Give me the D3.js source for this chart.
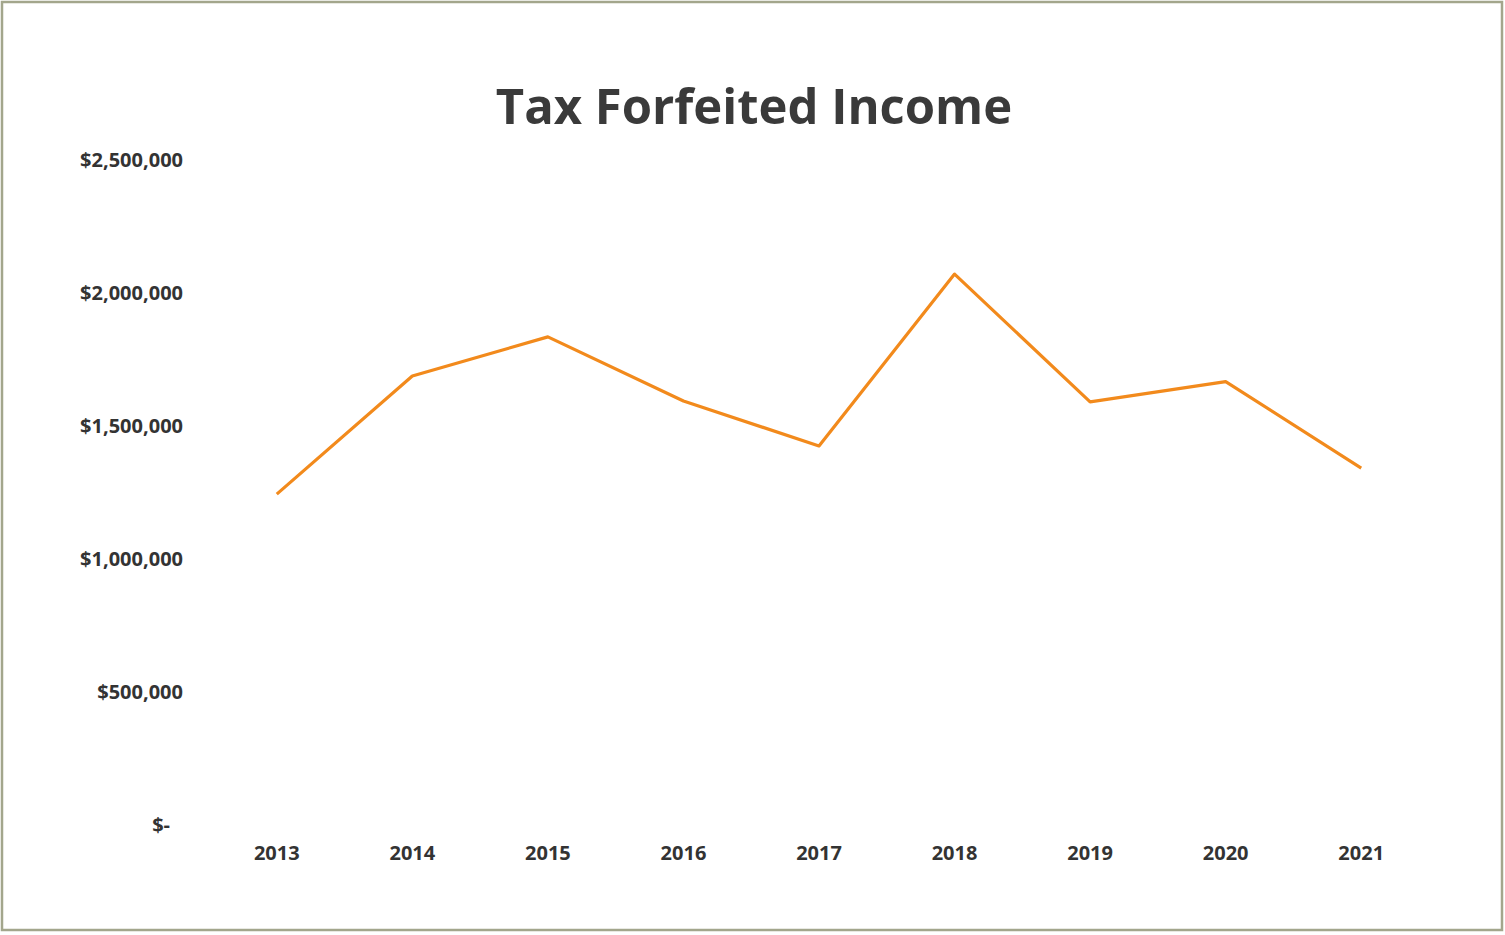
<!DOCTYPE html>
<html>
<head>
<meta charset="utf-8">
<script src="https://cdn.jsdelivr.net/npm/d3@7"></script>
<style>
  body { margin: 0; background: #fff; }
  svg { display: block; }
</style>
</head>
<body>
<svg id="chart" width="1505" height="935"></svg>
<script>
// values
var years = ['2013', '2014', '2015', '2016', '2017', '2018', '2019', '2020', '2021'];
var income = [1244000, 1688000, 1835000, 1594000, 1425000, 2071000, 1591000, 1667000, 1342000];
var yTicks = [0, 500000, 1000000, 1500000, 2000000, 2500000];
var title = 'Tax Forfeited Income';

var svg = d3.select('#chart');
var font = '"Open Sans", "DejaVu Sans", sans-serif';

// outer frame
svg.append('rect')
    .attr('x', 2).attr('y', 2)
    .attr('width', 1500).attr('height', 928)
    .attr('fill', '#fff')
    .attr('stroke', '#a3a68c')
    .attr('stroke-width', 2.5);

var margin = {top: 160, right: 76, bottom: 110, left: 209};
var width = 1505 - margin.left - margin.right,
    height = 935 - margin.top - margin.bottom;

var x = d3.scaleBand().domain(years).range([0, width]);
var y = d3.scaleLinear().domain([0, 2500000]).range([height, 0]);

var g = svg.append('g')
    .attr('transform', 'translate(' + margin.left + ',' + margin.top + ')');

function money(v) {
    return v === 0 ? '$-' : '$' + d3.format(',')(v);
}

var yAxis = g.append('g')
    .call(d3.axisLeft(y).tickValues(yTicks).tickFormat(money).tickSize(0).tickPadding(26));
yAxis.select('.domain').remove();
yAxis.selectAll('text')
    .style('font-family', font)
    .style('font-size', '20px')
    .style('font-weight', 700)
    .attr('fill', '#333')
    .attr('dx', function(d) { return d === 0 ? -13 : 0; });

var xAxis = g.append('g')
    .attr('transform', 'translate(0,' + height + ')')
    .call(d3.axisBottom(x).tickSize(0).tickPadding(21));
xAxis.select('.domain').remove();
xAxis.selectAll('text')
    .style('font-family', font)
    .style('font-size', '20px')
    .style('font-weight', 700)
    .attr('fill', '#333');

var line = d3.line()
    .x(function(d, i) { return x(years[i]) + x.bandwidth() / 2; })
    .y(function(d) { return y(d); });

g.append('path')
    .datum(income)
    .attr('fill', 'none')
    .attr('stroke', '#f28a1c')
    .attr('stroke-width', 3.2)
    .attr('stroke-linejoin', 'round')
    .attr('d', line);

svg.append('text')
    .attr('x', 754)
    .attr('y', 124)
    .attr('text-anchor', 'middle')
    .style('font-family', font)
    .style('font-size', '49px')
    .style('font-weight', 700)
    .attr('fill', '#3a3a3a')
    .text(title);
</script>
</body>
</html>
